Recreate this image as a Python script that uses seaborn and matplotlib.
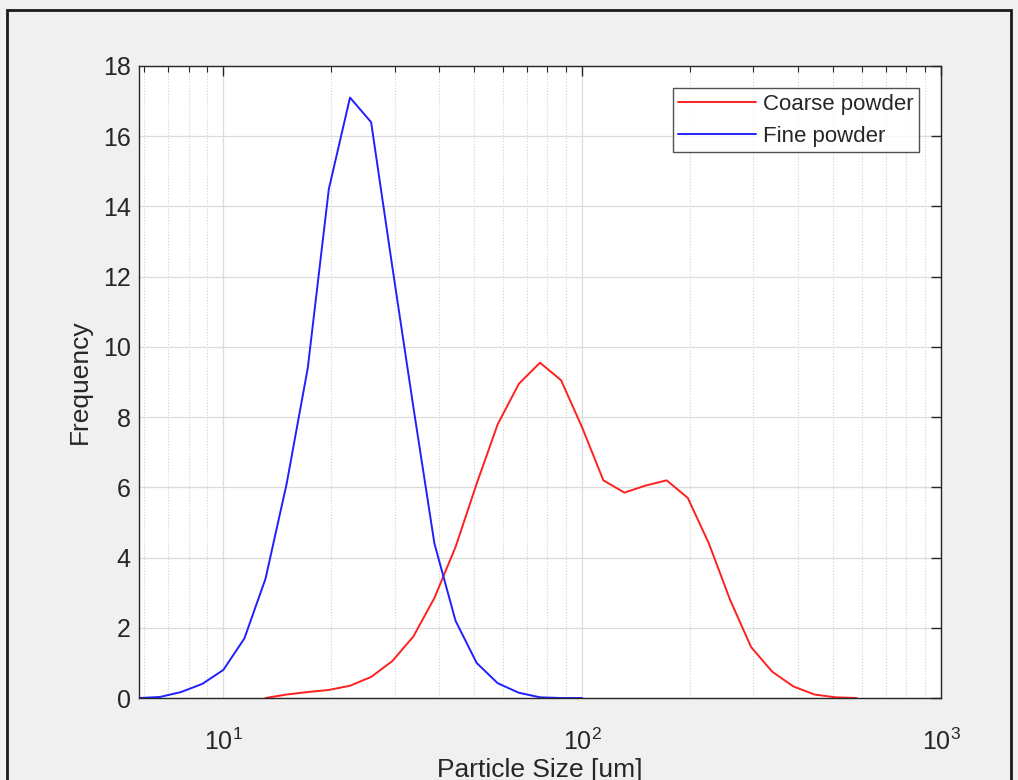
import seaborn as sns
import matplotlib.pyplot as plt
import matplotlib.ticker as mticker
from matplotlib.patches import Rectangle
import pandas as pd

# particle size bins [um] (log grid, ~17 bins per decade)
fine_size = [5.82, 6.66, 7.62, 8.73, 10.0, 11.45, 13.11, 15.01, 17.19, 19.68,
             22.54, 25.81, 29.55, 33.83, 38.74, 44.36, 50.79, 58.16, 66.60,
             76.26, 87.32, 100.0]
fine_freq = [0.0, 0.03, 0.17, 0.4, 0.8, 1.7, 3.4, 6.1, 9.4, 14.5,
             17.1, 16.4, 12.3, 8.3, 4.4, 2.2, 1.0, 0.42, 0.15,
             0.02, 0.0, 0.0]

coarse_size = [13.11, 15.01, 17.19, 19.68, 22.54, 25.81, 29.55, 33.83, 38.74,
               44.36, 50.79, 58.16, 66.60, 76.26, 87.32, 100.0, 114.5, 131.1,
               150.1, 171.9, 196.8, 225.4, 258.1, 295.5, 338.3, 387.4, 443.6,
               508.0, 581.7]
coarse_freq = [0.0, 0.1, 0.17, 0.23, 0.35, 0.6, 1.05, 1.75, 2.85,
               4.3, 6.1, 7.8, 8.95, 9.55, 9.05, 7.7, 6.2, 5.85,
               6.05, 6.2, 5.7, 4.4, 2.8, 1.45, 0.75, 0.33, 0.1,
               0.02, 0.0]

y_ticks = list(range(0, 19, 2))

df = pd.concat([
    pd.DataFrame({'size': coarse_size, 'freq': coarse_freq, 'powder': 'Coarse powder'}),
    pd.DataFrame({'size': fine_size, 'freq': fine_freq, 'powder': 'Fine powder'}),
])

sns.set_style("white")
plt.rcParams['font.family'] = ['Liberation Sans', 'DejaVu Sans']
plt.rcParams['mathtext.fontset'] = 'custom'
plt.rcParams['mathtext.rm'] = 'Liberation Sans'

fig = plt.figure(figsize=(10.18, 7.8), dpi=100, facecolor='#f0f0f0')
ax = fig.add_axes([0.1365, 0.1051, 0.788, 0.8103])
ax.set_facecolor('white')

sns.lineplot(data=df, x='size', y='freq', hue='powder', sort=False,
             estimator=None, palette={'Coarse powder': '#ff2020', 'Fine powder': '#2020ff'},
             linewidth=1.4, ax=ax)

ax.set_xscale('log')
ax.set_xlim(fine_size[0], 1000)
ax.set_ylim(0, 18)
ax.set_yticks(y_ticks)
ax.xaxis.set_major_locator(mticker.LogLocator(base=10, numticks=10))
ax.xaxis.set_minor_locator(mticker.LogLocator(base=10, subs=range(2, 10), numticks=20))
ax.xaxis.set_minor_formatter(mticker.NullFormatter())

# matlab-ish grid and ticks
ax.grid(True, which='major', color='#dcdcdc', linewidth=0.9, linestyle='-')
ax.grid(True, which='minor', axis='x', color='#d0d0d0', linewidth=0.8, linestyle=':')
ax.tick_params(which='both', direction='in', top=True, right=True, colors='#262626',
               labelsize=18, labelcolor='#262626')
ax.tick_params(which='major', length=7, width=1)
ax.tick_params(which='minor', length=4, width=0.8)
ax.tick_params(axis='x', which='major', pad=22)
ax.tick_params(axis='y', which='major', pad=6)
for s in ax.spines.values():
    s.set_color('#262626')
    s.set_linewidth(1)

ax.set_xlabel('Particle Size [um]', fontsize=19, color='#262626', labelpad=2)
ax.set_ylabel('Frequency', fontsize=19, color='#262626', labelpad=8)

leg = ax.legend(loc='upper right', fontsize=16, frameon=True, fancybox=False,
                edgecolor='#262626', borderaxespad=1.0, handlelength=3.5,
                handletextpad=0.3, borderpad=0.25, labelspacing=0.5)
leg.get_frame().set_linewidth(1)
leg.set_title(None)

# outer window frame
fig.patches.append(Rectangle((7 / 1018, -0.05), 1004 / 1018, 0.05 + 770 / 780,
                             transform=fig.transFigure, fill=False,
                             edgecolor='#1a1a1a', linewidth=2))

fig.savefig('out.png', dpi=100, facecolor=fig.get_facecolor())
